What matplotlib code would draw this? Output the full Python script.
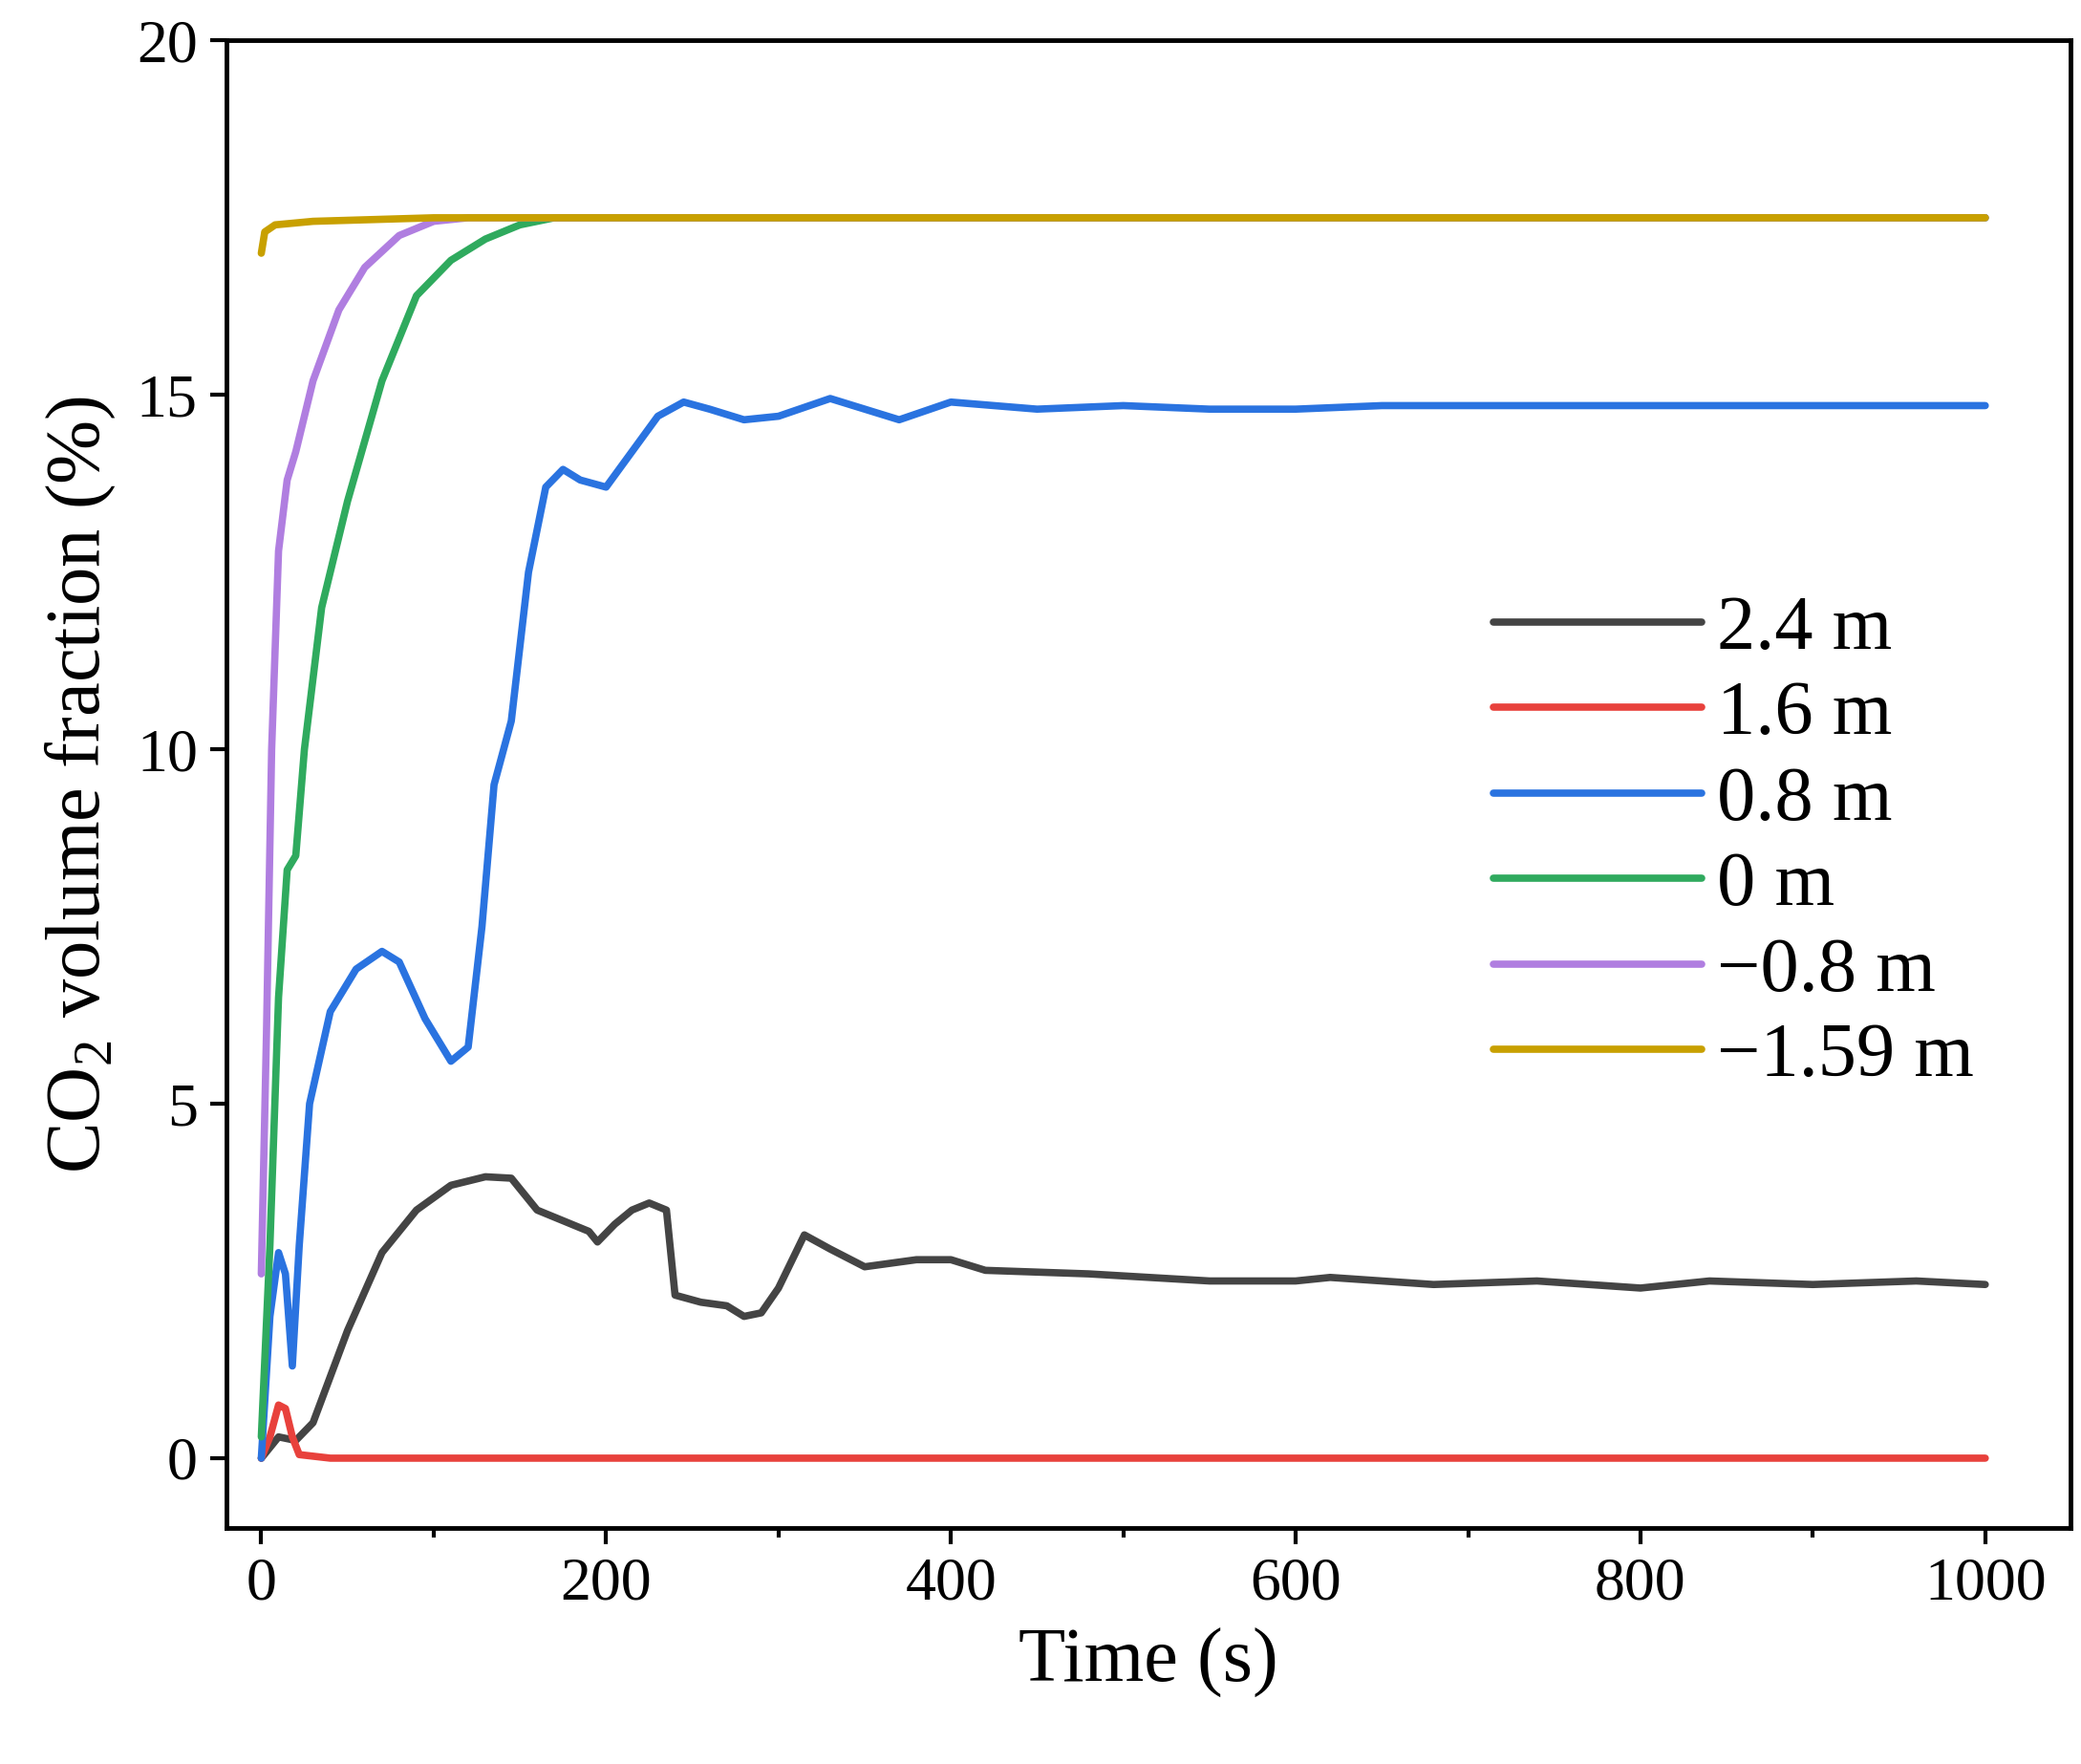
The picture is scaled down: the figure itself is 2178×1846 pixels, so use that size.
import matplotlib
matplotlib.use("Agg")
import matplotlib.pyplot as plt
from matplotlib.ticker import MultipleLocator

plt.rcParams["font.family"] = "Liberation Serif"
plt.rcParams["mathtext.fontset"] = "custom"
plt.rcParams["mathtext.rm"] = "Liberation Serif"

labels = ["2.4 m", "1.6 m", "0.8 m", "0 m", "\u22120.8 m", "\u22121.59 m"]
colors = ["#444444", "#e8413c", "#2a73e0", "#2faa5e", "#b07ee0", "#c8a000"]

t_gray = [0,10,20,30,50,70,90,110,130,145,160,180,190,195,205,215,225,235,240,255,270,280,290,300,315,330,350,380,400,420,480,550,600,620,680,740,800,840,900,960,1000]
v_gray = [0,0.3,0.25,0.5,1.8,2.9,3.5,3.85,3.97,3.95,3.5,3.3,3.2,3.05,3.3,3.5,3.6,3.5,2.3,2.2,2.15,2.0,2.05,2.4,3.15,2.95,2.7,2.8,2.8,2.65,2.6,2.5,2.5,2.55,2.45,2.5,2.4,2.5,2.45,2.5,2.45]
t_red = [0,5,10,14,18,22,40,1000]
v_red = [0,0.3,0.75,0.7,0.3,0.05,0,0]
t_blue = [0,5,10,14,18,22,28,40,55,70,80,95,110,120,128,135,145,155,165,175,185,200,215,230,245,260,280,300,330,350,370,400,450,500,550,600,650,750,850,1000]
v_blue = [0,2.0,2.9,2.6,1.3,3,5,6.3,6.9,7.15,7.0,6.2,5.6,5.8,7.5,9.5,10.4,12.5,13.7,13.95,13.8,13.7,14.2,14.7,14.9,14.8,14.65,14.7,14.95,14.8,14.65,14.9,14.8,14.85,14.8,14.8,14.85,14.85,14.85,14.85]
t_green = [0,5,10,15,20,25,35,50,70,90,110,130,150,170,1000]
v_green = [0.3,3,6.5,8.3,8.5,10,12,13.5,15.2,16.4,16.9,17.2,17.4,17.5,17.5]
t_purple = [0,3,6,10,15,20,30,45,60,80,100,120,1000]
v_purple = [2.6,6,10,12.8,13.8,14.2,15.2,16.2,16.8,17.25,17.45,17.5,17.5]
t_gold = [0,2,8,30,100,1000]
v_gold = [17.0,17.3,17.4,17.45,17.5,17.5]

series = [(t_gray, v_gray), (t_red, v_red), (t_blue, v_blue), (t_green, v_green), (t_purple, v_purple), (t_gold, v_gold)]

fig = plt.figure(figsize=(21.78, 18.46), dpi=100)
ax = fig.add_axes([0.109, 0.134, 0.886, 0.843])
for (t, v), c, l in zip(series, colors, labels):
    ax.plot(t, v, color=c, lw=5.5, label=l, solid_joinstyle="round", solid_capstyle="round")
ax.set_xlim(-20, 1049.5)
ax.set_ylim(-0.98, 20)
ax.xaxis.set_major_locator(MultipleLocator(200))
ax.xaxis.set_minor_locator(MultipleLocator(100))
ax.yaxis.set_major_locator(MultipleLocator(5))
ax.tick_params(which="both", direction="out", width=3, labelsize=46, pad=10)
ax.tick_params(which="major", length=12)
ax.tick_params(which="minor", length=7)
for s in ax.spines.values():
    s.set_linewidth(3.5)
ax.set_xlabel("Time (s)", fontsize=58, labelpad=12)
ax.set_ylabel("CO$_2$ volume fraction (%)", fontsize=58, labelpad=14)
ax.legend(loc="center right", bbox_to_anchor=(0.985, 0.46), frameon=False, fontsize=58,
          handlelength=2.7, labelspacing=0.2, handletextpad=0.2)
fig.savefig("out.png", dpi=100)
